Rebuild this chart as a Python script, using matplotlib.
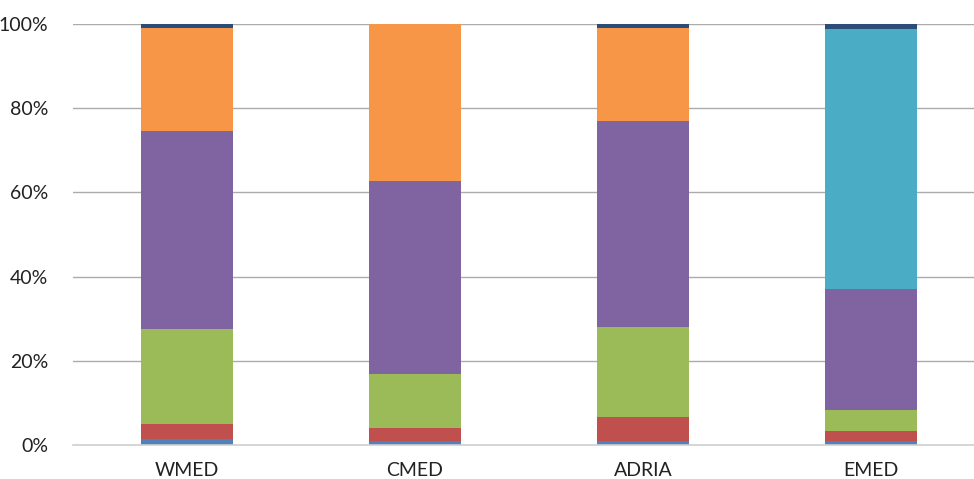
import matplotlib
matplotlib.use("Agg")
import matplotlib.pyplot as plt
import numpy as np

categories = ["WMED", "CMED", "ADRIA", "EMED"]
series_names = ["S1", "S2", "S3", "S4", "S5", "S6", "S7"]
s1_blue = [1.5, 1.0, 1.0, 1.0]
s2_red = [3.5, 3.0, 5.6, 2.3]
s3_green = [22.5, 12.9, 21.4, 5.0]
s4_purple = [47.1, 45.8, 49.0, 28.7]
s5_aqua = [0.0, 0.0, 0.0, 61.8]
s6_orange = [24.4, 37.3, 22.0, 0.0]
s7_dark = [1.0, 0.0, 1.0, 1.2]
colors = ["#4F81BD", "#C0504D", "#9BBB59", "#8064A2", "#4BACC6", "#F79646", "#2C4D75"]
yticks = [0, 20, 40, 60, 80, 100]
ytick_labels = ["0%", "20%", "40%", "60%", "80%", "100%"]

series = [s1_blue, s2_red, s3_green, s4_purple, s5_aqua, s6_orange, s7_dark]

plt.rcParams['font.family'] = ['Lato', 'DejaVu Sans']
fig = plt.figure(figsize=(9.74, 4.79), dpi=100)
ax = fig.add_axes([73/974, 34/479, 912/974, 421/479])

x = np.arange(len(categories))
bottom = np.zeros(len(categories))
for vals, c in zip(series, colors):
    v = np.array(vals, dtype=float)
    ax.bar(x, v, 0.40, bottom=bottom, color=c, edgecolor='none', zorder=3)
    bottom += v

ax.set_xlim(-0.5, 3.5)
ax.set_ylim(0, 100)
ax.set_yticks(yticks)
ax.set_yticklabels(ytick_labels, fontsize=14, color='#222222')
ax.set_xticks(x)
ax.set_xticklabels(categories, fontsize=14, color='#222222')
ax.grid(axis='y', color='#ABABAB', linewidth=1.0, zorder=0)
for s in ['left', 'right', 'top']:
    ax.spines[s].set_visible(False)
ax.spines['bottom'].set_color('#D0D0D0')
ax.spines['bottom'].set_linewidth(1.2)
ax.spines['bottom'].set_zorder(4)
ax.tick_params(axis='x', length=0, pad=12)
ax.tick_params(axis='y', length=0, pad=18)

fig.savefig("out.png", dpi=100)
